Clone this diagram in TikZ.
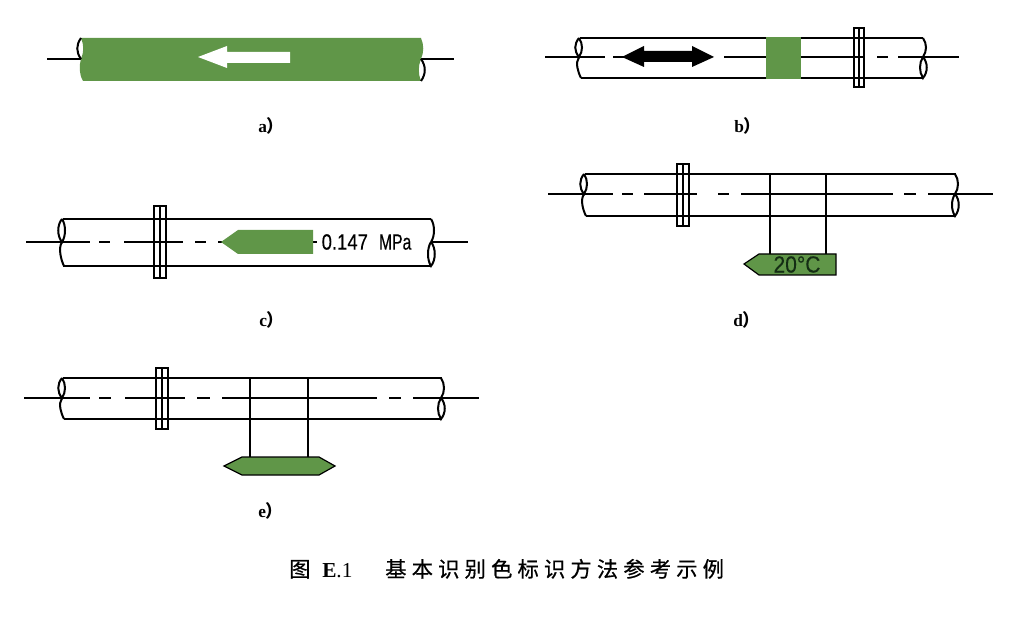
\documentclass[tikz,border=0pt]{standalone}
\usepackage{fontspec}
\setmainfont{Liberation Serif}
\newfontfamily\cjk{Noto Sans CJK SC}
\newfontfamily\cjkbold[FakeBold=0.6]{Noto Sans CJK SC}
\newfontfamily\cjkspaced[LetterSpace=24,FakeBold=0.6]{Noto Sans CJK SC}
\newfontfamily\tagfont[FakeBold=0.3]{Liberation Sans}
\definecolor{pipegreen}{RGB}{96,150,72}
\definecolor{tagtext}{RGB}{20,45,20}
\tikzset{
	pipeline/.style={line width=1.5pt},
	axisline/.style={line width=1.3pt},
	thinline/.style={line width=0.9pt},
	tagbox/.style={fill=pipegreen},
	sublabel/.style={anchor=base west,inner sep=0pt,font=\fontsize{13}{13}\selectfont\bfseries},
}
% x, top, middle, bottom
\newcommand{\pipeleft}[4]{
	\draw [pipeline] (#1,#2) .. controls +(-5,6) and +(-5,-6) .. (#1,#3) .. controls +(4,-6) and +(4,6) .. (#1,#2);
	\draw [pipeline] (#1,#3) .. controls +(-4,6) and +(-3,-6) .. (#1+2,#4);
}
\newcommand{\piperight}[4]{
	\draw [pipeline] (#1,#2) .. controls +(4,6) and +(4,-6) .. (#1,#3);
	\draw [pipeline] (#1,#3) .. controls +(-4,6) and +(-4,-6) .. (#1,#4) .. controls +(5,-6) and +(5,6) .. (#1,#3);
}
\begin{document}
\begin{tikzpicture}[x=0.75pt,y=-0.75pt]
	\useasboundingbox (0,0) rectangle (1021,634);
	% Pipe a
	\draw [axisline] (47,59) -- (81,59) (421,59) -- (454,59);
	\fill [pipegreen] (81,38) -- (421,38) .. controls (424,45) and (424,52) .. (421,59)
		.. controls (418,66) and (418,74) .. (421,81) -- (83,81) .. controls (79,74) and (79,66) .. (81,59)
		.. controls (84,52) and (84,45) .. (81,38) -- cycle;
	\draw [pipeline] (81,38) .. controls (76,45) and (76,52) .. (81,59);
	\draw [pipeline] (421,59) .. controls (426,66) and (426,74) .. (421,81);
	\fill [white] (198,57) -- (227,46) -- (227,52) -- (290,52) -- (290,63) -- (227,63) -- (227,68) -- cycle;
	\node [sublabel] (labela) at (258,133) {a{\cjk ）}};

	% Pipe b
	\draw [pipeline] (580,38) -- (923,38) (581,78) -- (923,78);
	\pipeleft{579}{38}{57}{78}
	\piperight{923}{38}{57}{78}
	\draw [axisline] (545,57) -- (605,57) (613,57) -- (625,57) (724,57) -- (770,57) (800,57) -- (865,57)
		(877,57) -- (888,57) (898,57) -- (959,57);
	\fill (622,57) -- (644,46) -- (644,51) -- (692,51) -- (692,46) -- (714,57) -- (692,67) -- (692,62) -- (644,62) -- (644,67) -- cycle;
	\fill [pipegreen] (766,37) rectangle (801,79);
	% Flange b
	\draw [thinline] (854,28) rectangle (864,87) (859,28) -- (859,87);
	\node [sublabel] (labelb) at (734,133) {b{\cjk ）}};

	% Pipe c
	\draw [pipeline] (63,219) -- (431,219) (63,266) -- (431,266);
	\pipeleft{62}{219}{242}{266}
	\piperight{431}{219}{242}{266}
	\draw [axisline] (26,242) -- (90,242) (99,242) -- (110,242) (124,242) -- (183,242) (195,242) -- (206,242)
		(218,242) -- (225,242) (313,242) -- (317,242) (431,242) -- (468,242);
	% Flange c
	\draw [thinline] (154,206) rectangle (166,278) (160,206) -- (160,278);
	\fill [pipegreen] (221,242) -- (238,230) -- (313,230) -- (313,254) -- (238,254) -- cycle;
	\node [inner sep=0pt,font=\tagfont\fontsize{16.5}{16.5}\selectfont,xscale=0.84,transform shape] (pressure) at (366.5,242) {0.147\hspace{9.9pt}\scalebox{0.85}[1]{MPa}};
	\node [sublabel] (labelc) at (259,327) {c{\cjk ）}};

	% Pipe d
	\draw [pipeline] (585,174) -- (956,174) (586,216) -- (956,216);
	\pipeleft{584}{174}{194}{216}
	\piperight{955}{174}{194}{216}
	\draw [axisline] (548,194) -- (613,194) (622,194) -- (633,194) (644,194) -- (697,194) (718,194) -- (729,194)
		(741,194) -- (893,194) (904,194) -- (916,194) (928,194) -- (993,194);
	% Flange d
	\draw [thinline] (677,164) rectangle (689,226) (683,164) -- (683,226);
	\draw [axisline] (770,174) -- (770,254) (826,174) -- (826,254);
	\draw [thinline,tagbox] (744,264) -- (759,254) -- (836,254) -- (836,275) -- (759,275) -- cycle;
	\node [inner sep=0pt,text=tagtext,font=\tagfont\fontsize{17.5}{17.5}\selectfont,xscale=0.9,transform shape] (temperature) at (797,264.5) {20°C};
	\node [sublabel] (labeld) at (733,327) {d{\cjk ）}};

	% Pipe e
	\draw [pipeline] (63,378) -- (442,378) (64,419) -- (442,419);
	\pipeleft{62}{378}{398}{419}
	\piperight{441}{378}{398}{419}
	\draw [axisline] (24,398) -- (90,398) (99,398) -- (111,398) (125,398) -- (185,398) (197,398) -- (210,398)
		(222,398) -- (377,398) (389,398) -- (401,398) (413,398) -- (479,398);
	% Flange e
	\draw [thinline] (156,368) rectangle (168,429) (162,368) -- (162,429);
	\draw [axisline] (250,378) -- (250,457) (308,378) -- (308,457);
	\draw [thinline,tagbox] (224,466) -- (242,457) -- (319,457) -- (335,466) -- (319,475) -- (242,475) -- cycle;
	\node [sublabel] (labele) at (258,517) {e{\cjk ）}};

	% Caption
	\node [anchor=base west,inner sep=0pt,font=\fontsize{16}{16}\selectfont\cjkbold] (captionmark) at (289,577) {图};
	\node [anchor=base west,inner sep=0pt,font=\fontsize{16}{16}\selectfont] (captionno) at (322,577.5) {\textbf{E}.1};
	\node [anchor=base west,inner sep=0pt,font=\fontsize{16}{16}\selectfont\cjkspaced] (captiontext) at (385,577) {基本识别色标识方法参考示例};
\end{tikzpicture}
\end{document}
